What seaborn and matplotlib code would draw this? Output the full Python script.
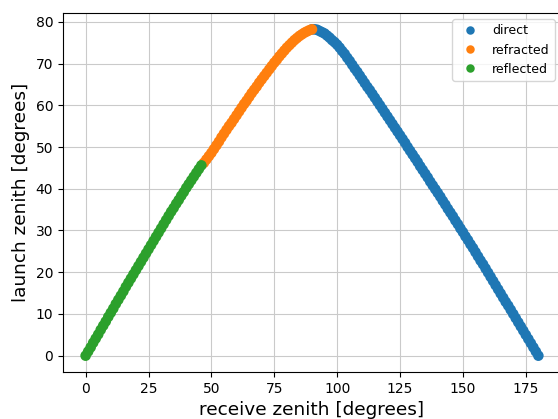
import seaborn as sns
import pandas as pd
import matplotlib.pyplot as plt

# receive / launch zenith angles, in degrees
direct_receive = [90, 91, 92, 93, 94, 95, 96, 97, 98, 99, 100, 101, 102, 103, 104, 105, 106, 107, 108, 109,
                  110, 111, 112, 113, 114, 115, 116, 117, 118, 119, 120, 121, 122, 123, 124, 125, 126, 127, 128, 129,
                  130, 131, 132, 133, 134, 135, 136, 137, 138, 139, 140, 141, 142, 143, 144, 145, 146, 147, 148, 149,
                  150, 151, 152, 153, 154, 155, 156, 157, 158, 159, 160, 161, 162, 163, 164, 165, 166, 167, 168, 169,
                  170, 171, 172, 173, 174, 175, 176, 177, 178, 179, 180]
direct_launch = [78.2, 78.2, 78.1, 77.8, 77.5, 77.2, 76.7, 76.2, 75.6, 75.1, 74.5, 73.8, 73.0, 72.3, 71.4, 70.6,
                 69.7, 68.8, 68.0, 67.1, 66.2, 65.3, 64.4, 63.6, 62.7, 61.8, 60.9, 60.0, 59.1, 58.2, 57.3, 56.4,
                 55.5, 54.6, 53.7, 52.8, 51.9, 51.0, 50.0, 49.1, 48.2, 47.3, 46.4, 45.4, 44.5, 43.6, 42.7, 41.7,
                 40.8, 39.9, 39.0, 38.1, 37.1, 36.2, 35.2, 34.3, 33.4, 32.4, 31.5, 30.5, 29.6, 28.6, 27.7, 26.7,
                 25.8, 24.8, 23.8, 22.8, 21.9, 20.9, 19.9, 18.9, 17.9, 16.9, 15.9, 14.9, 13.9, 12.9, 12.0, 11.0,
                 10.0, 9.0, 8.0, 7.0, 6.0, 5.0, 4.0, 3.0, 2.0, 1.0, 0.0]

refracted_receive = [47, 48, 49, 50, 51, 52, 53, 54, 55, 56, 57, 58, 59, 60, 61, 62, 63, 64, 65, 66, 67, 68,
                     69, 70, 71, 72, 73, 74, 75, 76, 77, 78, 79, 80, 81, 82, 83, 84, 85, 86, 87, 88, 89, 90]
refracted_launch = [46.2, 47.0, 47.8, 48.6, 49.5, 50.4, 51.3, 52.3, 53.2, 54.1, 55.0, 55.8, 56.7, 57.6, 58.5,
                    59.4, 60.3, 61.1, 62.0, 62.9, 63.7, 64.5, 65.4, 66.2, 67.0, 67.8, 68.6, 69.4, 70.2, 70.9,
                    71.7, 72.4, 73.1, 73.8, 74.4, 75.0, 75.6, 76.1, 76.6, 77.0, 77.4, 77.7, 78.0, 78.2]

reflected_receive = [0, 1, 2, 3, 4, 5, 6, 7, 8, 9, 10, 11, 12, 13, 14, 15, 16, 17, 18, 19, 20, 21, 22, 23,
                     24, 25, 26, 27, 28, 29, 30, 31, 32, 33, 34, 35, 36, 37, 38, 39, 40, 41, 42, 43, 44, 45, 46]
reflected_launch = [0, 1.0, 2.0, 3.1, 4.1, 5.1, 6.2, 7.2, 8.2, 9.3, 10.3, 11.3, 12.4, 13.4, 14.4, 15.4, 16.5,
                    17.5, 18.5, 19.5, 20.5, 21.5, 22.5, 23.5, 24.5, 25.5, 26.5, 27.5, 28.5, 29.5, 30.5, 31.5,
                    32.5, 33.5, 34.5, 35.4, 36.4, 37.3, 38.3, 39.2, 40.2, 41.1, 42.0, 42.9, 43.8, 44.7, 45.6]

df = pd.concat([
    pd.DataFrame({"receive": direct_receive, "launch": direct_launch, "type": "direct"}),
    pd.DataFrame({"receive": refracted_receive, "launch": refracted_launch, "type": "refracted"}),
    pd.DataFrame({"receive": reflected_receive, "launch": reflected_launch, "type": "reflected"}),
], ignore_index=True)

fig = plt.figure(figsize=(5.58, 4.19), dpi=100)
ax = fig.add_axes([63 / 558, 47 / 419, 498 / 558, 359 / 419])
sns.scatterplot(data=df, x="receive", y="launch", hue="type", palette="tab10",
                s=58, linewidth=0, ax=ax)
ax.grid(True, color="#cacaca")
ax.set_axisbelow(True)
ax.set_xlabel("receive zenith [degrees]", fontsize=13.3)
ax.set_ylabel("launch zenith [degrees]", fontsize=13.3)
ax.legend(loc="upper right", fontsize=9, markerscale=0.8)
plt.savefig("out.png", dpi=100)
